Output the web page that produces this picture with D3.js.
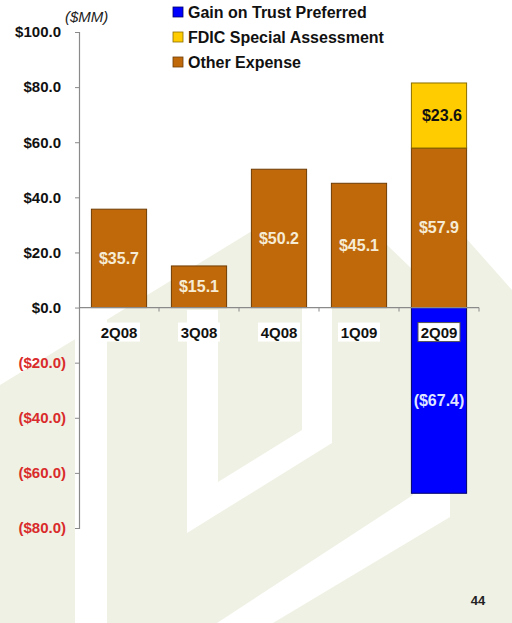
<!DOCTYPE html>
<html>
<head>
<meta charset="utf-8">
<script src="https://cdn.jsdelivr.net/npm/d3@7"></script>
<style>
  html, body { margin: 0; padding: 0; background: #ffffff; }
  svg { display: block; font-family: "Liberation Sans", Arial, sans-serif; }
</style>
</head>
<body>
<svg id="chart" width="512" height="623"></svg>
<script>
// Quarterly expense components ($MM)
const quarters = ["2Q08", "3Q08", "4Q08", "1Q09", "2Q09"];
const otherExpense = [35.7, 15.1, 50.2, 45.1, 57.9];
const fdicAssessment = [0, 0, 0, 0, 23.6];
const trustPreferredGain = [0, 0, 0, 0, -67.4];
const yTickValues = [100, 80, 60, 40, 20, 0, -20, -40, -60, -80];

const seriesNames = ["Gain on Trust Preferred", "FDIC Special Assessment", "Other Expense"];
const colors = {
  "Other Expense": { fill: "#c0690b", stroke: "#6e3c05", text: "#f6ecd6" },
  "FDIC Special Assessment": { fill: "#ffcc00", stroke: "#8a6d00", text: "#111111" },
  "Gain on Trust Preferred": { fill: "#0000ff", stroke: "#00006a", text: "#dfe4ff" }
};

const svg = d3.select("#chart");

// ---- background emblem (light house shape with white bands) ----
const bg = svg.append("g");
const beige = "#eff1e4";
bg.append("polygon")
  .attr("points", [[0,385],[257,228],[330,190],[413,270],[449,219],[512,290],[512,623],[0,623]].join(" "))
  .attr("fill", beige);
bg.append("rect").attr("x", 75).attr("y", 0).attr("width", 32).attr("height", 623).attr("fill", "#fff");
bg.append("polygon")
  .attr("points", [[187,310],[218,310],[218,482],[302,430],[302,0],[332,0],[332,443],[187,533]].join(" "))
  .attr("fill", "#fff");
bg.append("polygon")
  .attr("points", [[413,0],[450,0],[450,517],[273,623],[217,623],[413,495]].join(" "))
  .attr("fill", "#fff");

// ---- scales ----
const y = d3.scaleLinear().domain([-80, 100]).range([528, 32]);
const x = d3.scaleBand().domain(quarters).range([79, 479]).paddingInner(0.31).paddingOuter(0.155);

// ---- y axis ----
const fmt = v => v < 0 ? "($" + Math.abs(v).toFixed(1) + ")" : "$" + v.toFixed(1);
const yAxis = svg.append("g")
  .attr("transform", "translate(79,0)")
  .call(d3.axisLeft(y).tickValues(yTickValues).tickSize(4).tickFormat(fmt));
yAxis.select(".domain").attr("stroke", "#8a8a8a").attr("stroke-width", 1.2);
yAxis.selectAll(".tick line").attr("stroke", "#8a8a8a");
yAxis.selectAll(".tick text")
  .attr("font-size", 15).attr("font-weight", "bold")
  .attr("x", d => d < 0 ? -13 : -18)
  .attr("fill", d => d < 0 ? "#d92b2b" : "#111111");

// ---- bars ----
const rows = quarters.map((q, i) => ({
  quarter: q,
  "Other Expense": otherExpense[i],
  "FDIC Special Assessment": fdicAssessment[i],
  "Gain on Trust Preferred": trustPreferredGain[i]
}));

const stack = d3.stack()
  .keys(["Gain on Trust Preferred", "Other Expense", "FDIC Special Assessment"])
  .offset(d3.stackOffsetDiverging);
const layers = stack(rows);

const segs = [];
layers.forEach(layer => {
  layer.forEach(d => {
    const v = d.data[layer.key];
    if (v !== 0) segs.push({ key: layer.key, quarter: d.data.quarter, y0: d[0], y1: d[1], value: v });
  });
});

svg.append("g").selectAll("rect").data(segs).join("rect")
  .attr("x", d => x(d.quarter))
  .attr("width", x.bandwidth())
  .attr("y", d => y(Math.max(d.y0, d.y1)))
  .attr("height", d => Math.abs(y(d.y0) - y(d.y1)))
  .attr("fill", d => colors[d.key].fill)
  .attr("stroke", d => colors[d.key].stroke)
  .attr("stroke-width", 1);

// ---- x axis at zero ----
const xAxisG = svg.append("g");
xAxisG.append("line")
  .attr("x1", 79).attr("x2", 479)
  .attr("y1", y(0)).attr("y2", y(0))
  .attr("stroke", "#8a8a8a").attr("stroke-width", 1.2);
const boundaries = quarters.map(q => x(q) + x.bandwidth() + x.step() * x.paddingInner() / 2);
xAxisG.selectAll("line.tk").data(boundaries).join("line")
  .attr("class", "tk")
  .attr("x1", d => d).attr("x2", d => d)
  .attr("y1", y(0)).attr("y2", y(0) + 4)
  .attr("stroke", "#8a8a8a");

// category labels with white boxes
const catG = svg.append("g").selectAll("g").data(quarters).join("g")
  .attr("transform", q => `translate(${x(q) + x.bandwidth() / 2},${y(0) + 25})`);
catG.append("rect")
  .attr("x", -21).attr("y", -10).attr("width", 42).attr("height", 19)
  .attr("fill", "#ffffff")
  .attr("stroke", q => q === "2Q09" ? "#555555" : "none")
  .attr("stroke-width", 1);
catG.append("text")
  .attr("text-anchor", "middle").attr("dy", "0.35em")
  .attr("font-size", 15).attr("font-weight", "bold").attr("fill", "#111111")
  .text(q => q);

// ---- value labels ----
svg.append("g").selectAll("text").data(segs).join("text")
  .attr("x", d => x(d.quarter) + x.bandwidth() / 2 + (d.key === "FDIC Special Assessment" ? 3 : 0))
  .attr("y", d => y((d.y0 + d.y1) / 2))
  .attr("dy", "0.35em")
  .attr("text-anchor", "middle")
  .attr("font-size", 16).attr("font-weight", "bold")
  .attr("fill", d => colors[d.key].text)
  .text(d => fmt(d.value));

// ---- units label ----
svg.append("text")
  .attr("x", 65).attr("y", 22)
  .attr("font-size", 15).attr("font-style", "italic").attr("fill", "#222")
  .text("($MM)");

// ---- legend ----
const legend = svg.append("g").selectAll("g").data(seriesNames).join("g")
  .attr("transform", (d, i) => `translate(173,${12 + i * 25})`);
legend.append("rect")
  .attr("x", 0).attr("y", -5).attr("width", 10).attr("height", 10)
  .attr("fill", d => colors[d].fill)
  .attr("stroke", d => colors[d].stroke).attr("stroke-width", 0.8);
legend.append("text")
  .attr("x", 15).attr("dy", "0.36em")
  .attr("font-size", 16).attr("font-weight", "bold").attr("fill", "#111")
  .text(d => d);

// ---- page number ----
svg.append("text")
  .attr("x", 478).attr("y", 600).attr("dy", "0.35em")
  .attr("text-anchor", "middle")
  .attr("font-size", 13).attr("font-weight", "bold").attr("fill", "#222")
  .text("44");
</script>
</body>
</html>
